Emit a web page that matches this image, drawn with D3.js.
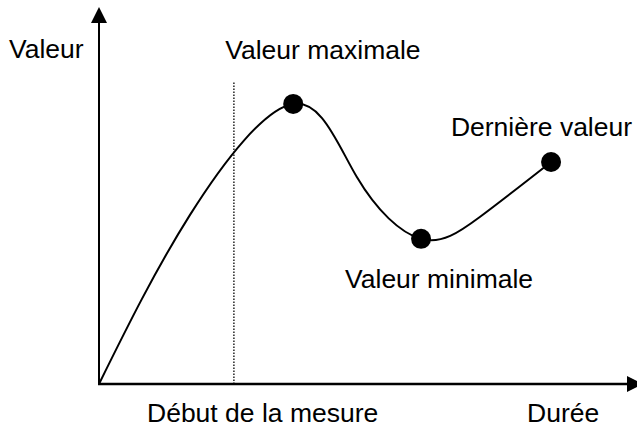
<!DOCTYPE html>
<html>
<head>
<meta charset="utf-8">
<script src="https://cdn.jsdelivr.net/npm/d3@7"></script>
<style>
  body { margin: 0; background: #fff; }
  text { font-family: "Liberation Sans", Arial, sans-serif; fill: #000; }
</style>
</head>
<body>
<div id="chart-area"></div>
<script>
// Curve data (abstract units: 0..100 on both axes)
var durationPts = [0, 16.7, 35.7, 47.4, 59.2, 70.0, 83.1];
var valuePts    = [0, 44.8, 74.3, 54.9, 38.5, 44.3, 58.9];

// Marked points
var markerNames = ["max", "min", "last"];
var markerX = [35.7, 59.2, 83.1];
var markerY = [74.3, 38.5, 58.9];

// Start of measure (dotted line)
var startX = 24.8;
var startTop = 80.1;

// Texts
var axisLabels = ["Valeur", "Durée"];
var startLabel = "Début de la mesure";
var markerLabels = ["Valeur maximale", "Valeur minimale", "Dernière valeur"];

var width = 637, height = 428;

var svg = d3.select("#chart-area").append("svg")
    .attr("width", width)
    .attr("height", height);

svg.append("rect").attr("width", width).attr("height", height).attr("fill", "#fff");

// Scales
var x = d3.scaleLinear().domain([0, 100]).range([99, 643]);
var y = d3.scaleLinear().domain([0, 100]).range([384, 7]);

// Axes with arrows
svg.append("line")
    .attr("x1", x(0)).attr("y1", y(0))
    .attr("x2", x(0)).attr("y2", y(100) + 14)
    .attr("stroke", "#000").attr("stroke-width", 2);
svg.append("path")
    .attr("d", "M" + x(0) + "," + y(100) + " L" + (x(0) - 8) + "," + (y(100) + 16) +
        " L" + (x(0) + 8) + "," + (y(100) + 16) + " Z")
    .attr("fill", "#000");

svg.append("line")
    .attr("x1", x(0) - 1).attr("y1", y(0))
    .attr("x2", x(100) - 14).attr("y2", y(0))
    .attr("stroke", "#000").attr("stroke-width", 2.5);
svg.append("path")
    .attr("d", "M" + x(100) + "," + y(0) + " L" + (x(100) - 16) + "," + (y(0) - 8) +
        " L" + (x(100) - 16) + "," + (y(0) + 8) + " Z")
    .attr("fill", "#000");

// Dotted start line
svg.append("line")
    .attr("x1", x(startX)).attr("y1", y(0))
    .attr("x2", x(startX)).attr("y2", y(startTop))
    .attr("stroke", "#000").attr("stroke-width", 1.3)
    .attr("stroke-dasharray", "1.5,1.5");

// Curve
var pts = durationPts.map(function (d, i) { return [d, valuePts[i]]; });
var line = d3.line()
    .x(function (d) { return x(d[0]); })
    .y(function (d) { return y(d[1]); })
    .curve(d3.curveNatural);

svg.append("path")
    .attr("d", line(pts))
    .attr("fill", "none")
    .attr("stroke", "#000")
    .attr("stroke-width", 2);

// Dots
svg.selectAll(".dot")
    .data(markerNames)
    .enter().append("circle")
    .attr("class", "dot")
    .attr("cx", function (d, i) { return x(markerX[i]); })
    .attr("cy", function (d, i) { return y(markerY[i]); })
    .attr("r", 10)
    .attr("fill", "#000");

// Labels
var fs = "26.5px";
svg.append("text").attr("x", 9).attr("y", 58).style("font-size", fs).text(axisLabels[0]);
svg.append("text").attr("x", 527).attr("y", 422).style("font-size", fs).text(axisLabels[1]);
svg.append("text").attr("x", 147).attr("y", 422).style("font-size", fs).text(startLabel);

// marker label offsets relative to dots
var labelDx = [-68, -76, 81];
var labelDy = [-45, 49, -26];
var labelAnchor = ["start", "start", "end"];
svg.selectAll(".mlabel")
    .data(markerLabels)
    .enter().append("text")
    .attr("class", "mlabel")
    .attr("x", function (d, i) { return x(markerX[i]) + labelDx[i]; })
    .attr("y", function (d, i) { return y(markerY[i]) + labelDy[i]; })
    .attr("text-anchor", function (d, i) { return labelAnchor[i]; })
    .style("font-size", fs)
    .text(function (d) { return d; });
</script>
</body>
</html>
